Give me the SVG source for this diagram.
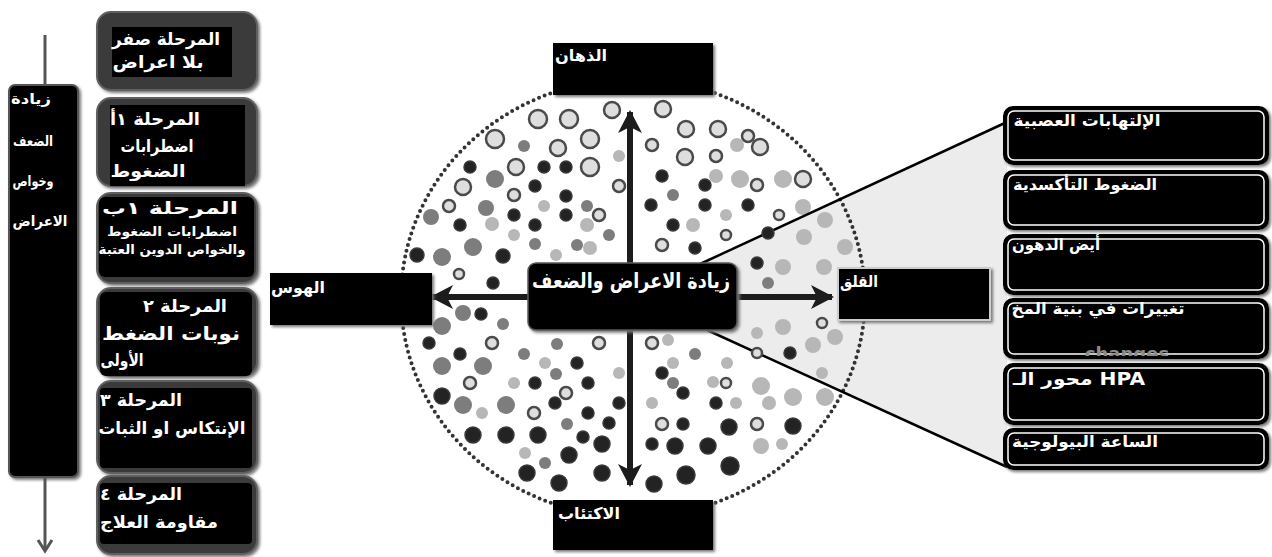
<svg xmlns="http://www.w3.org/2000/svg" width="1272" height="557" viewBox="0 0 1272 557">
<style>
text{font-family:"DejaVu Sans","Liberation Sans",sans-serif;font-weight:bold;fill:#fff}
.k{fill:#232323;stroke:#3a3a3a;stroke-width:1.5}
.m{fill:#7d7d7d}
.l{fill:#b7b7b7}
.r{fill:#dedede;stroke:#4a4a4a;stroke-width:2.5}
.stage{fill:#3a3a3a;stroke:#616161;stroke-width:2}
.inner{fill:#000}
.rb{fill:#000;stroke:#000;stroke-width:4}
.rbi{fill:none;stroke:#fff;stroke-width:1.5}
.cb{fill:#000;stroke:#5a5a5a;stroke-width:1.5}
.arr{stroke:#1c1c1c;stroke-width:6;fill:none}
</style>
<defs>
<marker id="ah" markerWidth="24" markerHeight="26" refX="21" refY="13" orient="auto" markerUnits="userSpaceOnUse">
<path d="M0,1 L23,13 L0,25 L6,13 Z" fill="#1c1c1c"/>
</marker>
<filter id="sh" x="-10%" y="-10%" width="125%" height="130%">
<feDropShadow dx="2" dy="2" stdDeviation="1.5" flood-color="#777"/>
</filter>
<clipPath id="chg"><rect x="1000" y="343" width="272" height="13"/></clipPath>
</defs>

<!-- left progression column -->
<g id="progression">
<line x1="45" y1="35" x2="45" y2="86" stroke="#555" stroke-width="3"/>
<rect x="9" y="85" width="69" height="392" rx="6" fill="#000" stroke="#555" stroke-width="2" filter="url(#sh)"/>
<line x1="45" y1="478" x2="45" y2="550" stroke="#555" stroke-width="3"/>
<polyline points="38,540 45,551 52,540" fill="none" stroke="#555" stroke-width="3"/>
<text x="31" y="104" font-size="14" text-anchor="middle" textLength="40" lengthAdjust="spacingAndGlyphs">زيادة</text>
<text x="33" y="146" font-size="14" text-anchor="middle" textLength="40" lengthAdjust="spacingAndGlyphs">الضعف</text>
<text x="33" y="186" font-size="14" text-anchor="middle" textLength="41" lengthAdjust="spacingAndGlyphs">وخواص</text>
<text x="40" y="226" font-size="14" text-anchor="middle" textLength="55" lengthAdjust="spacingAndGlyphs">الاعراض</text>
</g>

<!-- stage boxes -->
<g id="stage0">
<rect class="stage" x="97" y="12" width="160" height="78" rx="14" filter="url(#sh)"/>
<rect class="inner" x="112" y="27" width="120" height="50"/>
<text x="166" y="45" font-size="17" text-anchor="middle" textLength="108" lengthAdjust="spacingAndGlyphs">المرحلة صفر</text>
<text x="158" y="68" font-size="17" text-anchor="middle" textLength="91" lengthAdjust="spacingAndGlyphs">بلا اعراض</text>
</g>
<g id="stage1a">
<rect class="stage" x="97" y="98" width="160" height="88" rx="14" filter="url(#sh)"/>
<rect class="inner" x="110" y="105" width="135" height="81"/>
<text x="155" y="125" font-size="17" text-anchor="middle" textLength="90" lengthAdjust="spacingAndGlyphs">المرحلة ١أ</text>
<text x="157" y="152" font-size="17" text-anchor="middle" textLength="73" lengthAdjust="spacingAndGlyphs">اضطرابات</text>
<text x="148" y="177" font-size="17" text-anchor="middle" textLength="75" lengthAdjust="spacingAndGlyphs">الضغوط</text>
</g>
<g id="stage1b">
<rect class="stage" x="97" y="193" width="160" height="90" rx="14" filter="url(#sh)"/>
<rect class="inner" x="99" y="197" width="155" height="80" rx="6"/>
<text x="170" y="214" font-size="17" text-anchor="middle" textLength="136" lengthAdjust="spacingAndGlyphs">المرحلة ١ب</text>
<text x="172" y="236" font-size="13" text-anchor="middle" textLength="130" lengthAdjust="spacingAndGlyphs">اضطرابات الضغوط</text>
<text x="172" y="254" font-size="13" text-anchor="middle" textLength="147" lengthAdjust="spacingAndGlyphs">والخواص الدوين العتبة</text>
</g>
<g id="stage2">
<rect class="stage" x="97" y="288" width="160" height="88" rx="14" filter="url(#sh)"/>
<rect class="inner" x="100" y="292" width="152" height="84" rx="6"/>
<text x="185" y="312" font-size="17" text-anchor="middle" textLength="84" lengthAdjust="spacingAndGlyphs">المرحلة ٢</text>
<text x="171" y="340" font-size="19" text-anchor="middle" textLength="138" lengthAdjust="spacingAndGlyphs">نوبات الضغط</text>
<text x="122" y="366" font-size="17" text-anchor="middle" textLength="43" lengthAdjust="spacingAndGlyphs">الأولى</text>
</g>
<g id="stage3">
<rect class="stage" x="97" y="381" width="160" height="92" rx="14" filter="url(#sh)"/>
<rect class="inner" x="100" y="388" width="152" height="80" rx="4"/>
<text x="141" y="406" font-size="17" text-anchor="middle" textLength="82" lengthAdjust="spacingAndGlyphs">المرحلة ٣</text>
<text x="172" y="434" font-size="17" text-anchor="middle" textLength="147" lengthAdjust="spacingAndGlyphs">الإنتكاس او الثبات</text>
</g>
<g id="stage4">
<rect class="stage" x="97" y="476" width="160" height="78" rx="14" filter="url(#sh)"/>
<rect class="inner" x="100" y="483" width="152" height="61" rx="4"/>
<text x="141" y="500" font-size="17" text-anchor="middle" textLength="82" lengthAdjust="spacingAndGlyphs">المرحلة ٤</text>
<text x="159" y="528" font-size="17" text-anchor="middle" textLength="118" lengthAdjust="spacingAndGlyphs">مقاومة العلاج</text>
</g>

<!-- central field -->
<g id="field">
<polygon points="700,263 1007,122 1007,467 707,330" fill="#ececec"/>
<ellipse cx="633" cy="298" rx="232" ry="219" fill="none" stroke="#333" stroke-width="4" stroke-dasharray="0 6" stroke-linecap="round"/>
<g id="dots">
<circle class="r" cx="612" cy="110" r="8"/><circle class="r" cx="538" cy="119" r="9"/><circle class="r" cx="569" cy="119" r="9"/>
<circle class="r" cx="495" cy="139" r="9"/><circle class="m" cx="524" cy="146" r="6"/><circle class="r" cx="558" cy="148" r="8"/>
<circle class="r" cx="590" cy="139" r="9"/><circle class="k" cx="470" cy="167" r="6"/><circle class="m" cx="495" cy="179" r="9"/>
<circle class="r" cx="516" cy="167" r="8"/><circle class="k" cx="544" cy="167" r="6"/><circle class="k" cx="566" cy="167" r="6"/>
<circle class="r" cx="590" cy="167" r="9"/><circle class="l" cx="619" cy="156" r="6"/><circle class="r" cx="463" cy="187" r="8"/>
<circle class="k" cx="535" cy="186" r="6"/><circle class="r" cx="514" cy="195" r="6"/><circle class="k" cx="566" cy="196" r="6"/>
<circle class="r" cx="619" cy="186" r="6"/><circle class="r" cx="449" cy="206" r="6"/><circle class="m" cx="486" cy="208" r="8"/>
<circle class="l" cx="544" cy="206" r="6"/><circle class="m" cx="587" cy="206" r="6"/><circle class="r" cx="599" cy="215" r="6"/>
<circle class="m" cx="431" cy="217" r="8"/><circle class="k" cx="460" cy="225" r="6"/><circle class="k" cx="514" cy="215" r="6"/>
<circle class="k" cx="566" cy="215" r="6"/><circle class="l" cx="492" cy="224" r="7"/><circle class="k" cx="535" cy="225" r="6"/>
<circle class="l" cx="514" cy="235" r="6"/><circle class="l" cx="587" cy="225" r="7"/><circle class="m" cx="609" cy="235" r="6"/>
<circle class="m" cx="473" cy="247" r="9"/><circle class="m" cx="535" cy="244" r="6"/><circle class="m" cx="577" cy="245" r="6"/>
<circle class="l" cx="590" cy="248" r="7"/><circle class="k" cx="417" cy="255" r="7"/><circle class="m" cx="442" cy="257" r="9"/>
<circle class="k" cx="503" cy="256" r="7"/><circle class="l" cx="556" cy="255" r="6"/><circle class="r" cx="459" cy="274" r="5"/>
<circle class="k" cx="493" cy="283" r="6"/>
<circle class="r" cx="663" cy="109" r="8"/><circle class="r" cx="686" cy="129" r="8"/><circle class="r" cx="718" cy="129" r="8"/>
<circle class="r" cx="652" cy="145" r="6"/><circle class="r" cx="748" cy="136" r="6"/><circle class="l" cx="737" cy="145" r="7"/>
<circle class="r" cx="760" cy="147" r="8"/><circle class="r" cx="685" cy="157" r="8"/><circle class="r" cx="716" cy="156" r="6"/>
<circle class="k" cx="662" cy="176" r="6"/><circle class="l" cx="716" cy="176" r="7"/><circle class="l" cx="740" cy="179" r="9"/>
<circle class="r" cx="757" cy="185" r="6"/><circle class="l" cx="783" cy="179" r="9"/><circle class="r" cx="803" cy="179" r="8"/>
<circle class="k" cx="705" cy="185" r="6"/><circle class="m" cx="673" cy="195" r="6"/><circle class="k" cx="651" cy="205" r="6"/>
<circle class="k" cx="705" cy="205" r="6"/><circle class="k" cx="748" cy="205" r="6"/><circle class="l" cx="726" cy="215" r="6"/>
<circle class="r" cx="779" cy="215" r="5"/><circle class="l" cx="803" cy="207" r="8"/><circle class="k" cx="673" cy="225" r="6"/>
<circle class="l" cx="693" cy="225" r="7"/><circle class="r" cx="726" cy="235" r="5"/><circle class="r" cx="662" cy="245" r="6"/>
<circle class="k" cx="695" cy="248" r="6"/>
<circle class="l" cx="825" cy="220" r="8"/><circle class="l" cx="804" cy="237" r="8"/><circle class="l" cx="845" cy="247" r="8"/>
<circle class="k" cx="757" cy="263" r="6"/><circle class="l" cx="783" cy="267" r="8"/><circle class="l" cx="824" cy="267" r="8"/>
<circle class="m" cx="768" cy="283" r="6"/><circle class="l" cx="757" cy="333" r="6"/><circle class="l" cx="783" cy="327" r="8"/>
<circle class="r" cx="822" cy="323" r="5"/><circle class="l" cx="813" cy="345" r="8"/><circle class="l" cx="835" cy="337" r="8"/>
<circle class="k" cx="790" cy="353" r="6"/><circle class="l" cx="822" cy="373" r="6"/>
<circle class="r" cx="652" cy="343" r="6"/><circle class="l" cx="668" cy="340" r="6"/><circle class="m" cx="695" cy="354" r="6"/>
<circle class="l" cx="673" cy="363" r="6"/><circle class="l" cx="727" cy="363" r="6"/><circle class="k" cx="662" cy="373" r="6"/>
<circle class="m" cx="673" cy="383" r="6"/><circle class="l" cx="713" cy="382" r="6"/><circle class="r" cx="726" cy="383" r="5"/>
<circle class="k" cx="683" cy="393" r="6"/><circle class="l" cx="761" cy="386" r="9"/><circle class="l" cx="793" cy="397" r="9"/>
<circle class="l" cx="825" cy="397" r="9"/><circle class="l" cx="652" cy="403" r="6"/><circle class="k" cx="716" cy="403" r="6"/>
<circle class="l" cx="736" cy="403" r="6"/><circle class="l" cx="769" cy="403" r="7"/><circle class="r" cx="662" cy="424" r="6"/>
<circle class="k" cx="683" cy="424" r="6"/><circle class="k" cx="729" cy="427" r="8"/><circle class="r" cx="757" cy="424" r="6"/>
<circle class="k" cx="793" cy="426" r="8"/><circle class="k" cx="652" cy="444" r="6"/><circle class="k" cx="675" cy="446" r="8"/>
<circle class="k" cx="708" cy="446" r="8"/><circle class="l" cx="761" cy="446" r="8"/><circle class="l" cx="782" cy="444" r="6"/>
<circle class="k" cx="730" cy="466" r="9"/><circle class="k" cx="686" cy="475" r="9"/><circle class="k" cx="654" cy="484" r="8"/>
<circle class="m" cx="463" cy="313" r="8"/><circle class="k" cx="481" cy="314" r="6"/><circle class="m" cx="442" cy="326" r="9"/>
<circle class="m" cx="503" cy="324" r="6"/><circle class="k" cx="429" cy="343" r="6"/><circle class="r" cx="492" cy="343" r="6"/>
<circle class="m" cx="557" cy="344" r="6"/><circle class="r" cx="599" cy="343" r="6"/><circle class="m" cx="524" cy="354" r="6"/>
<circle class="k" cx="460" cy="354" r="6"/><circle class="m" cx="442" cy="366" r="9"/><circle class="m" cx="483" cy="366" r="9"/>
<circle class="l" cx="545" cy="363" r="6"/><circle class="k" cx="577" cy="363" r="6"/><circle class="m" cx="556" cy="374" r="6"/>
<circle class="l" cx="619" cy="373" r="6"/><circle class="r" cx="470" cy="383" r="6"/><circle class="l" cx="514" cy="383" r="6"/>
<circle class="k" cx="535" cy="383" r="6"/><circle class="k" cx="588" cy="383" r="6"/><circle class="r" cx="566" cy="393" r="6"/>
<circle class="k" cx="442" cy="396" r="8"/><circle class="m" cx="463" cy="405" r="9"/><circle class="m" cx="506" cy="405" r="9"/>
<circle class="k" cx="555" cy="403" r="6"/><circle class="k" cx="619" cy="403" r="6"/><circle class="l" cx="482" cy="413" r="6"/>
<circle class="r" cx="534" cy="413" r="6"/><circle class="k" cx="588" cy="413" r="6"/><circle class="m" cx="567" cy="424" r="6"/>
<circle class="k" cx="609" cy="423" r="6"/><circle class="k" cx="473" cy="435" r="8"/><circle class="k" cx="506" cy="435" r="8"/>
<circle class="k" cx="538" cy="435" r="8"/><circle class="k" cx="583" cy="437" r="6"/><circle class="k" cx="602" cy="444" r="8"/>
<circle class="l" cx="525" cy="453" r="6"/><circle class="k" cx="569" cy="455" r="8"/><circle class="m" cx="545" cy="463" r="6"/>
<circle class="k" cx="527" cy="473" r="8"/><circle class="k" cx="602" cy="473" r="8"/><circle class="k" cx="559" cy="483" r="8"/>
</g>
</g>

<!-- connectors -->
<g id="connectors">
<line x1="700" y1="264" x2="1007" y2="122" stroke="#000" stroke-width="2.5"/>
<line x1="707" y1="330" x2="1007" y2="467" stroke="#000" stroke-width="2.5"/>
<circle class="k" cx="768" cy="233" r="6"/>
<circle class="r" cx="757" cy="353" r="5"/>
<line class="arr" x1="630" y1="263" x2="630" y2="112" marker-end="url(#ah)"/>
<line class="arr" x1="630" y1="330" x2="630" y2="485" marker-end="url(#ah)"/>
<line class="arr" x1="528" y1="297" x2="432" y2="297" marker-end="url(#ah)"/>
<line class="arr" x1="737" y1="297" x2="832" y2="297" marker-end="url(#ah)"/>
</g>

<!-- center and pole nodes -->
<g id="center">
<rect class="cb" x="528" y="263" width="209" height="67" rx="8" filter="url(#sh)"/>
<text x="631" y="288" font-size="21" text-anchor="middle" textLength="198" lengthAdjust="spacingAndGlyphs">زيادة الاعراض والضعف</text>
</g>
<g id="psychosis">
<rect x="553" y="43" width="160" height="52" fill="#000" filter="url(#sh)"/>
<text x="581" y="61" font-size="16" text-anchor="middle" textLength="52" lengthAdjust="spacingAndGlyphs">الذهان</text>
</g>
<g id="depression">
<rect x="553" y="500" width="160" height="50" fill="#000" filter="url(#sh)"/>
<text x="589" y="519" font-size="16" text-anchor="middle" textLength="62" lengthAdjust="spacingAndGlyphs">الاكتئاب</text>
</g>
<g id="mania">
<rect x="270" y="273" width="162" height="52" fill="#000" filter="url(#sh)"/>
<text x="298" y="293" font-size="16" text-anchor="middle" textLength="54" lengthAdjust="spacingAndGlyphs">الهوس</text>
</g>
<g id="anxiety">
<rect x="838" y="268" width="152" height="52" fill="#000" stroke="#ccc" stroke-width="2" filter="url(#sh)"/>
<text x="859" y="287" font-size="16" text-anchor="middle" textLength="38" lengthAdjust="spacingAndGlyphs">القلق</text>
</g>

<!-- right-hand boxes -->
<g id="neuroinflammation">
<rect class="rb" x="1005" y="108" width="262" height="55" rx="8" filter="url(#sh)"/>
<rect class="rbi" x="1008" y="111" width="256" height="49" rx="6"/>
<text x="1087" y="126" font-size="16" text-anchor="middle" textLength="147" lengthAdjust="spacingAndGlyphs">الإلتهابات العصبية</text>
</g>
<g id="oxidative">
<rect class="rb" x="1005" y="172" width="262" height="56" rx="8" filter="url(#sh)"/>
<rect class="rbi" x="1008" y="175" width="256" height="50" rx="6"/>
<text x="1085" y="190" font-size="16" text-anchor="middle" textLength="144" lengthAdjust="spacingAndGlyphs">الضغوط التأكسدية</text>
</g>
<g id="lipid">
<rect class="rb" x="1005" y="236" width="262" height="57" rx="8" filter="url(#sh)"/>
<rect class="rbi" x="1008" y="239" width="256" height="51" rx="6"/>
<text x="1056" y="250" font-size="16" text-anchor="middle" textLength="88" lengthAdjust="spacingAndGlyphs">أيض الدهون</text>
</g>
<g id="brain">
<rect class="rb" x="1005" y="300" width="262" height="57" rx="8" filter="url(#sh)"/>
<rect class="rbi" x="1008" y="303" width="256" height="51" rx="6"/>
<text x="1098" y="314" font-size="16" text-anchor="middle" textLength="173" lengthAdjust="spacingAndGlyphs">تغييرات في بنية المخ</text>
<text x="1127" y="360" font-size="18" text-anchor="middle" style="fill:#8a8a8a" clip-path="url(#chg)">changes</text>
</g>
<g id="hpa">
<rect class="rb" x="1005" y="365" width="262" height="58" rx="8" filter="url(#sh)"/>
<rect class="rbi" x="1008" y="368" width="256" height="52" rx="6"/>
<text x="1079" y="385" font-size="17" text-anchor="middle" textLength="132" lengthAdjust="spacingAndGlyphs">محور الـ HPA</text>
</g>
<g id="clock">
<rect class="rb" x="1005" y="430" width="262" height="38" rx="8" filter="url(#sh)"/>
<rect class="rbi" x="1008" y="433" width="256" height="32" rx="6"/>
<text x="1085" y="447" font-size="16" text-anchor="middle" textLength="146" lengthAdjust="spacingAndGlyphs">الساعة البيولوجية</text>
</g>
</svg>
